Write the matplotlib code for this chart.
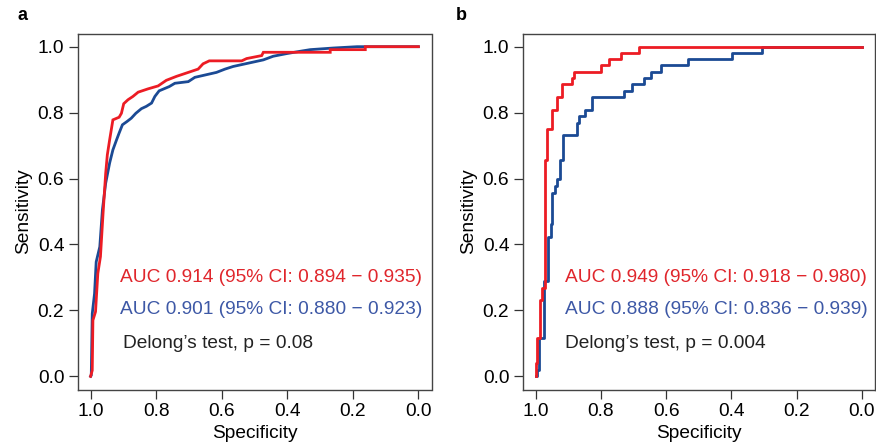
import matplotlib
matplotlib.use("Agg")
import matplotlib.pyplot as plt

plt.rcParams['font.family'] = ['Liberation Sans', 'DejaVu Sans']

# ---------------- data ----------------
# Panel a (dense ROC curves)
a_red_spec = [1.000, 0.995, 0.993, 0.985, 0.978, 0.970, 0.962, 0.954, 0.949, 0.942, 0.932,
              0.913, 0.906, 0.899, 0.886, 0.871, 0.855, 0.825, 0.794, 0.769, 0.738, 0.702,
              0.672, 0.657, 0.638, 0.539, 0.524, 0.478, 0.473, 0.269, 0.269, 0.162, 0.162, 0.000]
a_red_sens = [0.000, 0.018, 0.170, 0.196, 0.312, 0.363, 0.495, 0.616, 0.672, 0.717, 0.778,
              0.786, 0.798, 0.827, 0.839, 0.849, 0.862, 0.872, 0.881, 0.898, 0.910, 0.922,
              0.932, 0.948, 0.957, 0.957, 0.964, 0.973, 0.983, 0.983, 0.991, 0.991, 1.000, 1.000]

a_blue_spec = [1.000, 0.998, 0.995, 0.988, 0.983, 0.972, 0.964, 0.954, 0.942, 0.932, 0.921,
               0.913, 0.903, 0.889, 0.876, 0.862, 0.845, 0.830, 0.814, 0.804, 0.791, 0.760,
               0.743, 0.702, 0.682, 0.616, 0.590, 0.565, 0.519, 0.473, 0.443, 0.402, 0.361,
               0.330, 0.259, 0.187, 0.000]
a_blue_sens = [0.000, 0.003, 0.190, 0.251, 0.347, 0.393, 0.505, 0.586, 0.647, 0.687, 0.717,
               0.738, 0.763, 0.773, 0.783, 0.798, 0.812, 0.819, 0.829, 0.849, 0.866, 0.879,
               0.889, 0.894, 0.907, 0.922, 0.932, 0.940, 0.950, 0.960, 0.971, 0.979, 0.986,
               0.991, 0.996, 1.000, 1.000]

# Panel b (step ROC curves; corner points, drawn as steps)
b_red_spec = [1.000, 0.995, 0.987, 0.979, 0.971, 0.964, 0.949, 0.934, 0.918, 0.887, 0.881,
              0.798, 0.775, 0.738, 0.684, 0.000]
b_red_sens = [0.039, 0.117, 0.232, 0.269, 0.655, 0.750, 0.808, 0.847, 0.886, 0.904, 0.924,
              0.943, 0.962, 0.981, 1.000, 1.000]

b_blue_spec = [1.000, 0.995, 0.988, 0.975, 0.962, 0.954, 0.949, 0.941, 0.934, 0.925, 0.917,
               0.872, 0.866, 0.850, 0.828, 0.728, 0.706, 0.667, 0.646, 0.615, 0.533, 0.398,
               0.306, 0.000]
b_blue_sens = [0.000, 0.020, 0.117, 0.290, 0.422, 0.462, 0.557, 0.577, 0.598, 0.655, 0.731,
               0.769, 0.789, 0.808, 0.847, 0.866, 0.886, 0.904, 0.924, 0.943, 0.962, 0.981,
               1.000, 1.000]

panel_labels = ["a", "b"]
a_texts = ["AUC 0.914 (95% CI: 0.894 \u2212 0.935)",
           "AUC 0.901 (95% CI: 0.880 \u2212 0.923)",
           "Delong\u2019s test, p = 0.08"]
b_texts = ["AUC 0.949 (95% CI: 0.918 \u2212 0.980)",
           "AUC 0.888 (95% CI: 0.836 \u2212 0.939)",
           "Delong\u2019s test, p = 0.004"]
ticks = [1.0, 0.8, 0.6, 0.4, 0.2, 0.0]
tick_labels = ["1.0", "0.8", "0.6", "0.4", "0.2", "0.0"]

RED = "#EC1C24"
BLUE = "#1B4A94"
RED_T = "#E0262C"
BLUE_T = "#3D58A6"
TXT = "#222222"
FS = 13.8

fig = plt.figure(figsize=(8.76, 4.43), dpi=100)
axa = fig.add_axes([77.5/876, 1-389.5/443, 354/876, 356/443])
axb = fig.add_axes([522.5/876, 1-389.5/443, 352.5/876, 356/443])

def style(ax):
    ax.set_xlim(1.04, -0.04)
    ax.set_ylim(-0.04, 1.04)
    ax.set_xticks(ticks)
    ax.set_xticklabels(tick_labels)
    ax.set_yticks(ticks)
    ax.set_yticklabels(tick_labels)
    ax.tick_params(direction='out', length=6.5, width=0.9, labelsize=FS, colors='#333333',
                   labelcolor='black', pad=3)
    for s in ax.spines.values():
        s.set_linewidth(1.0)
        s.set_color('#444444')
    ax.set_xlabel("Specificity", fontsize=FS, labelpad=4)
    ax.set_ylabel("Sensitivity", fontsize=FS, labelpad=4)

# Panel a
axa.plot(a_blue_spec, a_blue_sens, color=BLUE, lw=2.0, solid_joinstyle='miter')
axa.plot(a_red_spec, a_red_sens, color=RED, lw=2.0, solid_joinstyle='miter')
style(axa)
axa.text(0.911, 0.301, a_texts[0], color=RED_T, fontsize=FS, va='center', ha='left')
axa.text(0.911, 0.204, a_texts[1], color=BLUE_T, fontsize=FS, va='center', ha='left')
axa.text(0.901, 0.100, a_texts[2], color=TXT, fontsize=FS, va='center', ha='left')

# Panel b
axb.plot([1.0] + b_blue_spec, [0.0] + b_blue_sens, color=BLUE, lw=2.0, drawstyle='steps-post')
axb.plot([1.0] + b_red_spec, [0.0] + b_red_sens, color=RED, lw=2.0, drawstyle='steps-post')
style(axb)
axb.text(0.910, 0.301, b_texts[0], color=RED_T, fontsize=FS, va='center', ha='left')
axb.text(0.910, 0.204, b_texts[1], color=BLUE_T, fontsize=FS, va='center', ha='left')
axb.text(0.910, 0.100, b_texts[2], color=TXT, fontsize=FS, va='center', ha='left')

fig.text(18/876, 1-16/443, panel_labels[0], fontsize=13, fontweight='bold', va='center', ha='left')
fig.text(456/876, 1-16/443, panel_labels[1], fontsize=13, fontweight='bold', va='center', ha='left')

fig.savefig("out.png", dpi=100)
